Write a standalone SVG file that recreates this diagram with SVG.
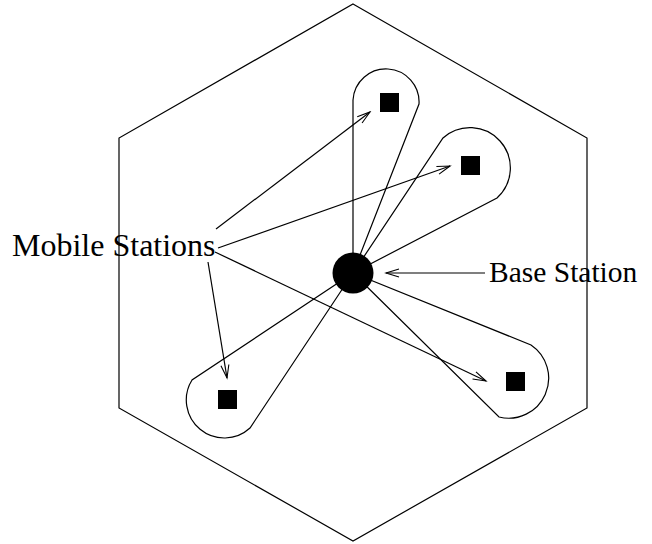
<svg xmlns="http://www.w3.org/2000/svg" width="652" height="544" viewBox="0 0 652 544">
<style>
.ln{fill:none;stroke:#000;stroke-width:1.2}
.sq{fill:#000}
.lbl{font-family:"Liberation Serif","Times New Roman",serif;fill:#000}
</style>
<defs>
<marker id="ah" markerUnits="userSpaceOnUse" markerWidth="16" markerHeight="12" refX="14" refY="5" orient="auto">
<path d="M1,1 L14,5 L1,9" fill="none" stroke="#000" stroke-width="1.1"/>
</marker>
</defs>
<rect width="652" height="544" fill="#fff"/>
<g id="cell">
<polygon class="ln" points="353,4 587,138 587,408 353,541 119,408 119,138"/>
</g>
<g id="lobes">
<path id="lobe-top" class="ln" d="M353,273 L353,100 A33,33 0 1 1 419,104 Z"/>
<path id="lobe-upper-right" class="ln" d="M353,273 L443,138 A40,40 0 1 1 497,198 Z"/>
<path id="lobe-bottom-left" class="ln" d="M353,273 L192,380 A38,38 0 0 0 250,428 Z"/>
<path id="lobe-bottom-right" class="ln" d="M353,273 L531,345 A40,40 0 0 1 499,417 Z"/>
</g>
<g id="base-station">
<circle cx="353" cy="273" r="20.5" fill="#000"/>
</g>
<g id="mobile-stations">
<rect id="ms-top" class="sq" x="380" y="93" width="19" height="19"/>
<rect id="ms-upper-right" class="sq" x="461" y="156" width="19" height="19"/>
<rect id="ms-bottom-left" class="sq" x="218" y="390" width="19" height="19"/>
<rect id="ms-bottom-right" class="sq" x="506" y="372" width="19" height="19"/>
</g>
<g id="connectors">
<line class="ln" x1="216" y1="229" x2="370" y2="112" marker-end="url(#ah)"/>
<line class="ln" x1="218" y1="248" x2="450" y2="166" marker-end="url(#ah)"/>
<line class="ln" x1="215" y1="252" x2="486" y2="381" marker-end="url(#ah)"/>
<line class="ln" x1="208" y1="262" x2="227" y2="378" marker-end="url(#ah)"/>
<line class="ln" x1="485" y1="273" x2="386" y2="273" marker-end="url(#ah)"/>
</g>
<g id="labels">
<text class="lbl" x="12" y="256" font-size="32">Mobile Stations</text>
<text class="lbl" x="489" y="282" font-size="29.5">Base Station</text>
</g>
</svg>
